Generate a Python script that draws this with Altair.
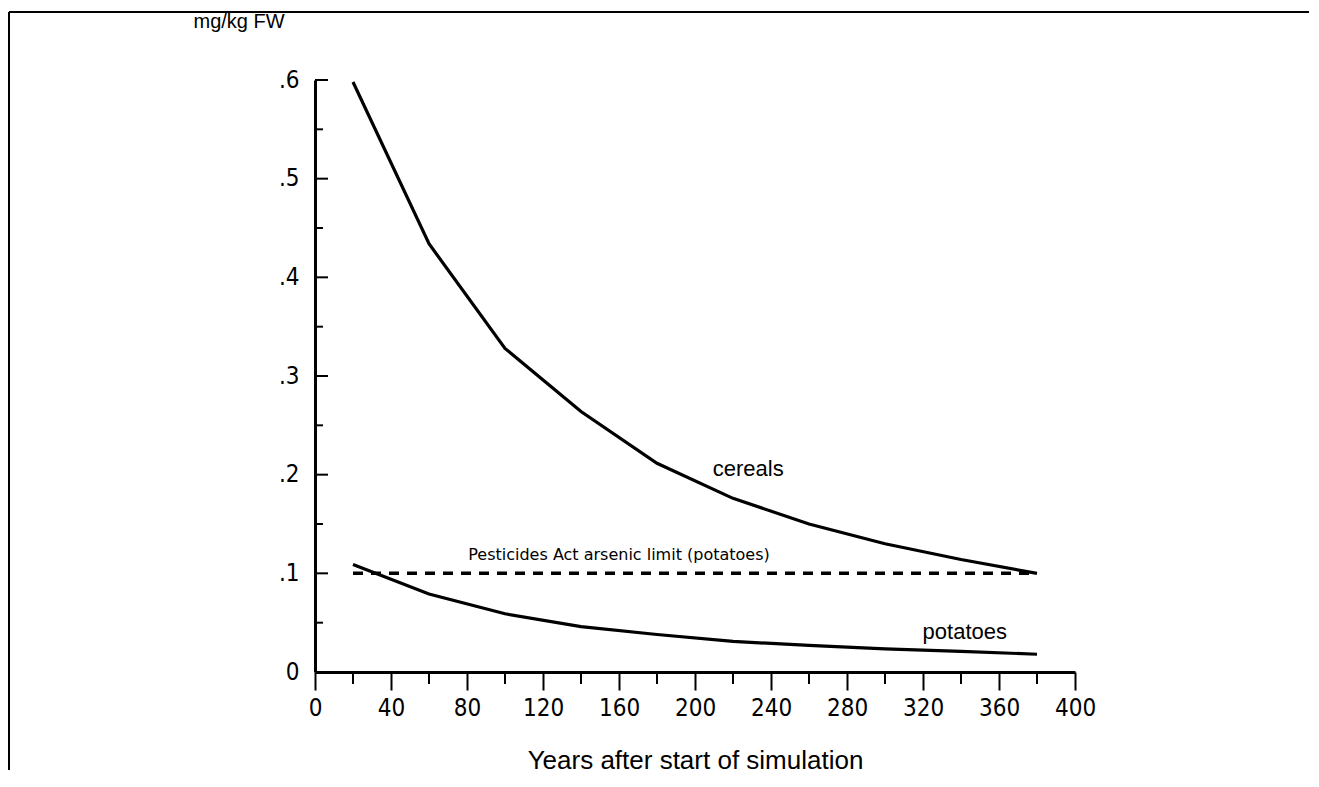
import altair as alt
import pandas as pd

# ---- data ----
years = [20, 60, 100, 140, 180, 220, 260, 300, 340, 380]
cereals = [0.598, 0.434, 0.328, 0.264, 0.2115, 0.176, 0.150, 0.130, 0.114, 0.100]
potatoes = [0.109, 0.079, 0.059, 0.046, 0.038, 0.031, 0.027, 0.0235, 0.021, 0.018]

limit_value = 0.1
limit_start = 20
limit_end = 380
limit_label = "Pesticides Act arsenic limit (potatoes)"

x_major = [0, 40, 80, 120, 160, 200, 240, 280, 320, 360, 400]
x_minor = [20, 60, 100, 140, 180, 220, 260, 300, 340, 380]
y_major = [0.0, 0.1, 0.2, 0.3, 0.4, 0.5, 0.6]
y_minor = [0.05, 0.15, 0.25, 0.35, 0.45, 0.55]

series_names = ["cereals", "potatoes"]

# ---- layout ----
W, H = 760, 592
NARROW = "'DejaVu Sans Condensed', 'Liberation Sans', sans-serif"
SANS = "'Liberation Sans', Arial, sans-serif"

lines_df = pd.DataFrame(
    {
        "year": years * 2,
        "value": cereals + potatoes,
        "series": [series_names[0]] * len(years) + [series_names[1]] * len(years),
    }
)

xscale = alt.Scale(domain=[0, 400], nice=False, zero=False)
yscale = alt.Scale(domain=[0, 0.6], nice=False)

x_axis = alt.Axis(
    values=x_major,
    title="Years after start of simulation",
    grid=False,
    ticks=True,
    tickSize=18,
    tickWidth=2,
    tickColor="black",
    domainColor="black",
    domainWidth=3,
    labelFont=NARROW,
    labelFontSize=24,
    labelColor="black",
    labelPadding=6,
    labelFlush=False,
    titleFont=SANS,
    titleFontSize=26,
    titleFontWeight="normal",
    titleColor="black",
    titleY=96,
    titleBaseline="alphabetic",
)

y_axis = alt.Axis(
    values=y_major,
    title="mg/kg FW",
    grid=False,
    ticks=False,
    domainColor="black",
    domainWidth=3,
    labelFont=NARROW,
    labelFontSize=24,
    labelColor="black",
    labelPadding=16,
    labelFlush=False,
    labelExpr="datum.value == 0 ? '0' : replace(format(datum.value, '.1f'), '0.', '.')",
    titleFont=SANS,
    titleFontSize=20,
    titleFontWeight="normal",
    titleColor="black",
    titleAngle=0,
    titleAlign="left",
    titleBaseline="middle",
    titleX=-122,
    titleY=-59,
)

lines = (
    alt.Chart(lines_df)
    .mark_line(color="black", strokeWidth=3.2)
    .encode(
        x=alt.X("year:Q", scale=xscale, axis=x_axis),
        y=alt.Y("value:Q", scale=yscale, axis=y_axis),
        detail="series:N",
    )
)

limit_df = pd.DataFrame({"x": [limit_start], "x2": [limit_end], "y": [limit_value]})
limit = (
    alt.Chart(limit_df)
    .mark_rule(color="black", strokeWidth=3.5, strokeDash=[10, 8])
    .encode(x="x:Q", x2="x2:Q", y="y:Q")
)

xminor_df = pd.DataFrame({"t": x_minor})
xminor = (
    alt.Chart(xminor_df)
    .mark_rule(color="black", strokeWidth=2)
    .encode(x="t:Q", y=alt.value(H), y2=alt.value(H + 12))
)

ymajor_df = pd.DataFrame({"t": y_major[1:]})
ymajor = (
    alt.Chart(ymajor_df)
    .mark_rule(color="black", strokeWidth=2)
    .encode(y="t:Q", x=alt.value(0), x2=alt.value(13))
)
yminor_df = pd.DataFrame({"t": y_minor})
yminor = (
    alt.Chart(yminor_df)
    .mark_rule(color="black", strokeWidth=2)
    .encode(y="t:Q", x=alt.value(0), x2=alt.value(8))
)

# annotation anchors
ann_df = pd.DataFrame(
    {
        "x": [228, 342],
        "y": [0.206, 0.0405],
        "label": series_names,
    }
)
ann = (
    alt.Chart(ann_df)
    .mark_text(font=SANS, fontSize=22, color="black", align="center", baseline="middle")
    .encode(x="x:Q", y="y:Q", text="label:N")
)

lim_txt_df = pd.DataFrame({"x": [160], "y": [0.1186], "label": [limit_label]})
lim_txt = (
    alt.Chart(lim_txt_df)
    .mark_text(font="'DejaVu Sans', sans-serif", fontSize=16, color="black", align="center", baseline="middle")
    .encode(x="x:Q", y="y:Q", text="label:N")
)

# scanned page frame
dummy = pd.DataFrame({"a": [0]})
frame_top = (
    alt.Chart(dummy)
    .mark_rule(color="black", strokeWidth=2)
    .encode(x=alt.value(-306), x2=alt.value(994), y=alt.value(-68))
)
frame_left = (
    alt.Chart(dummy)
    .mark_rule(color="black", strokeWidth=2)
    .encode(x=alt.value(-306), y=alt.value(-68), y2=alt.value(690))
)

chart = (
    alt.layer(frame_top, frame_left, limit, lines, xminor, ymajor, yminor, ann, lim_txt)
    .properties(
        width=W,
        height=H,
        background="white",
        padding={"left": 0, "top": 3, "right": 0, "bottom": 0},
    )
    .configure_view(stroke=None)
)

chart.save("out.html", embed_options={"renderer": "svg", "actions": False})
